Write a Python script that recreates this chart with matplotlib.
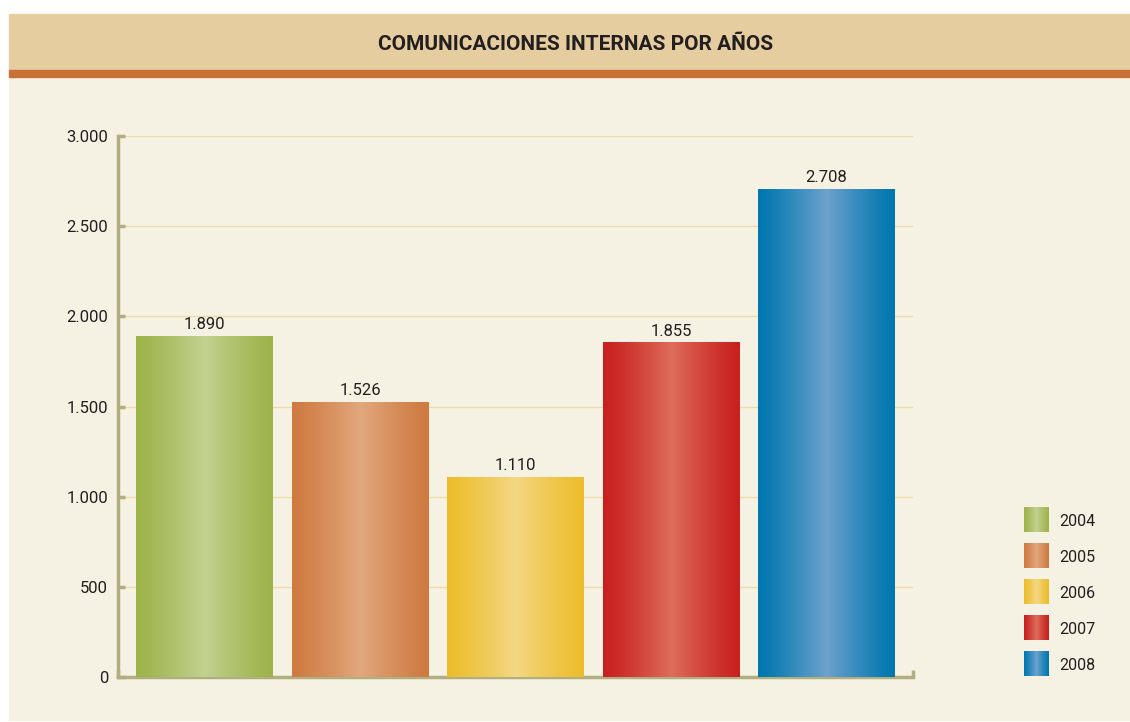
import matplotlib

matplotlib.use("Agg")

import matplotlib.pyplot as plt
import numpy as np
from matplotlib.colors import to_rgb
from matplotlib.patches import Rectangle

# datos
anios = ["2004", "2005", "2006", "2007", "2008"]
valores = [1890, 1526, 1110, 1855, 2708]
etiquetas = ["1.890", "1.526", "1.110", "1.855", "2.708"]
ticks_y = [0, 500, 1000, 1500, 2000, 2500, 3000]
ticks_y_txt = ["0", "500", "1.000", "1.500", "2.000", "2.500", "3.000"]

# (borde, centro) del degradado de cada barra
colores = [
    ("#9db34a", "#c3d190"),
    ("#cf7a41", "#e2a87e"),
    ("#ecbd2a", "#f4d784"),
    ("#c8201f", "#de6d5b"),
    ("#0077b0", "#6ea2cd"),
]

FONDO = "#f5f2e4"
CABECERA = "#e6cda0"
FRANJA = "#c87137"
EJE = "#b3ae80"
GRID = "#f0d9a8"
TINTA = "#231f20"
FUENTE = ["Roboto", "DejaVu Sans"]


def degradado(borde, centro, n=200):
    b = np.array(to_rgb(borde))
    c = np.array(to_rgb(centro))
    t = np.linspace(0, 1, n)
    w = (1 - np.abs(2 * t - 1)) ** 1.2
    return (b[None, :] * (1 - w[:, None]) + c[None, :] * w[:, None])[None, :, :]


fig = plt.figure(figsize=(11.3, 7.22), dpi=100)
fig.patch.set_facecolor("white")

# paneles de fondo (en pixeles de la figura)
W, H = 1130, 722


def caja(x0, y0, x1, y1, color):
    fig.patches.append(Rectangle((x0 / W, 1 - y1 / H), (x1 - x0) / W, (y1 - y0) / H,
                                 transform=fig.transFigure, color=color, zorder=-10))


caja(9, 77, 1130, 720, FONDO)
caja(9, 14, 1130, 70, CABECERA)
caja(9, 70, 1130, 77, FRANJA)

fig.text(576 / W, 1 - 45 / H, "COMUNICACIONES INTERNAS POR AÑOS",
         ha="center", va="center", fontsize=15, fontweight="bold",
         color=TINTA, family=FUENTE)

ax = fig.add_axes([118 / W, 1 - 677 / H, (913 - 118) / W, (677 - 136) / H])
ax.set_facecolor("none")
x = np.arange(len(anios))
bars = ax.bar(x, valores, width=0.875, color="none", edgecolor="none", zorder=3)
for bar, (borde, centro), txt in zip(bars, colores, etiquetas):
    x0, w, h = bar.get_x(), bar.get_width(), bar.get_height()
    im = ax.imshow(degradado(borde, centro), extent=[x0, x0 + w, 0, h],
                   aspect="auto", interpolation="bilinear", zorder=3)
    im.set_clip_path(bar)
    ax.text(x0 + w / 2, h + 22, txt, ha="center", va="bottom",
            fontsize=12, color=TINTA, family=FUENTE)

ax.set_xlim(-0.556, 4.556)
ax.set_ylim(0, 3000)
ax.set_yticks(ticks_y)
ax.set_yticklabels(ticks_y_txt, family=FUENTE, fontsize=12, color=TINTA)
ax.set_xticks([-0.556, 4.556])
ax.set_xticklabels([])
ax.tick_params(axis="y", direction="in", length=5, width=2.5, color=EJE, pad=7)
ax.tick_params(axis="x", direction="in", length=5, width=2.5, color=EJE)
ax.grid(True, axis="y", color=GRID, linewidth=1, zorder=0)
ax.set_axisbelow(True)
for s in ("top", "right"):
    ax.spines[s].set_visible(False)
for s in ("bottom", "left"):
    ax.spines[s].set_color(EJE)
    ax.spines[s].set_linewidth(2.5)

# leyenda manual con degradados
leg = fig.add_axes([1000 / W, 1 - 690 / H, 120 / W, 200 / H])
leg.axis("off")
for i, (anio, (borde, centro)) in enumerate(zip(anios, colores)):
    yc = 520 + i * 36
    leg.imshow(degradado(borde, centro), extent=[1024, 1048, yc + 12.5, yc - 12.5],
               aspect="auto", interpolation="bilinear")
    leg.text(1059, yc + 1, anio, ha="left", va="center", fontsize=11.5,
             color=TINTA, family=FUENTE)
leg.set_xlim(1000, 1120)
leg.set_ylim(690, 490)

fig.savefig("out.png", dpi=100, facecolor=fig.get_facecolor())
